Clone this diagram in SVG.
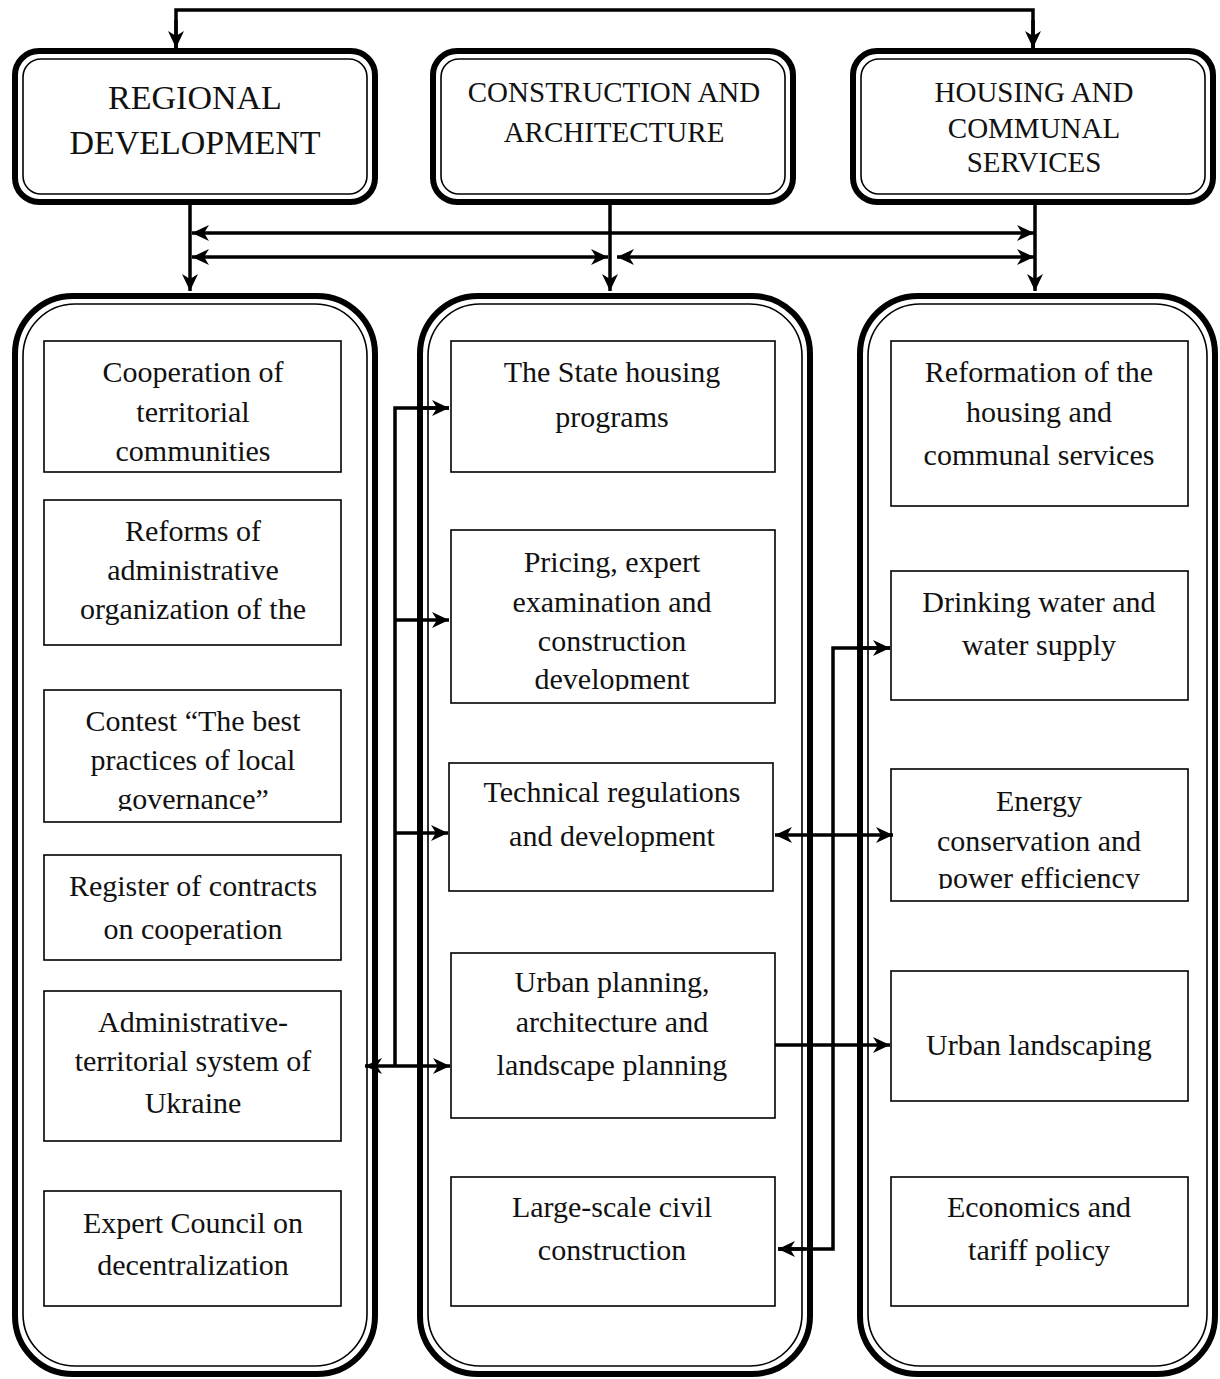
<svg xmlns="http://www.w3.org/2000/svg" width="1220" height="1379" viewBox="0 0 1220 1379">
<style>
.outer{fill:none;stroke:#000;stroke-width:6}
.inner{fill:none;stroke:#000;stroke-width:1.6}
.box{fill:#fff;stroke:#000;stroke-width:1.6}
.t{font-family:"Liberation Serif","Times New Roman",serif;font-size:30px;fill:#111;text-anchor:middle}
.h1{font-family:"Liberation Serif","Times New Roman",serif;font-size:34px;fill:#111;text-anchor:middle}
.h2{font-family:"Liberation Serif","Times New Roman",serif;font-size:29px;fill:#111;text-anchor:middle}
.c{fill:none;stroke:#000;stroke-width:3.5}
</style>
<defs>
<marker id="ah" markerUnits="userSpaceOnUse" markerWidth="18" markerHeight="18" viewBox="0 0 18 18" refX="17" refY="9" orient="auto-start-reverse">
<path d="M0,1 L17,9 L0,17 L5,9 Z" fill="#000"/>
</marker>
<clipPath id="cp2"><rect x="451" y="530" width="324" height="161"/></clipPath>
<clipPath id="cp3"><rect x="44" y="690" width="297" height="121"/></clipPath>
<clipPath id="cp4"><rect x="891" y="769" width="297" height="120"/></clipPath>
</defs>
<rect width="1220" height="1379" fill="#fff"/>

<g id="regional-development">
<rect class="outer" x="15" y="51" width="360" height="151" rx="24"/>
<rect class="inner" x="23" y="59" width="344" height="135" rx="18"/>
<text class="h1" x="195" y="109">REGIONAL</text>
<text class="h1" x="195" y="154">DEVELOPMENT</text>
</g>
<g id="construction-architecture">
<rect class="outer" x="433" y="51" width="360" height="151" rx="24"/>
<rect class="inner" x="441" y="59" width="344" height="135" rx="18"/>
<text class="h2" x="614" y="102">CONSTRUCTION AND</text>
<text class="h2" x="614" y="142">ARCHITECTURE</text>
</g>
<g id="housing-communal">
<rect class="outer" x="853" y="51" width="360" height="151" rx="24"/>
<rect class="inner" x="861" y="59" width="344" height="135" rx="18"/>
<text class="h2" x="1034" y="102">HOUSING AND</text>
<text class="h2" x="1034" y="138">COMMUNAL</text>
<text class="h2" x="1034" y="172">SERVICES</text>
</g>

<g id="left-container">
<rect class="outer" x="15" y="296" width="360" height="1078" rx="58"/>
<rect class="inner" x="23" y="304" width="344" height="1062" rx="52"/>
</g>
<g id="middle-container">
<rect class="outer" x="420" y="296" width="390" height="1078" rx="58"/>
<rect class="inner" x="428" y="304" width="374" height="1062" rx="52"/>
</g>
<g id="right-container">
<rect class="outer" x="860" y="296" width="355" height="1078" rx="58"/>
<rect class="inner" x="868" y="304" width="339" height="1062" rx="52"/>
</g>

<g id="l1"><rect class="box" x="44" y="341" width="297" height="131"/>
<text class="t" x="193" y="382">Cooperation of</text><text class="t" x="193" y="422">territorial</text><text class="t" x="193" y="461">communities</text></g>
<g id="l2"><rect class="box" x="44" y="500" width="297" height="145"/>
<text class="t" x="193" y="541">Reforms of</text><text class="t" x="193" y="580">administrative</text><text class="t" x="193" y="619">organization of the</text></g>
<g id="l3"><rect class="box" x="44" y="690" width="297" height="132"/>
<g clip-path="url(#cp3)"><text class="t" x="193" y="731">Contest “The best</text><text class="t" x="193" y="770">practices of local</text><text class="t" x="193" y="809">governance”</text></g></g>
<g id="l4"><rect class="box" x="44" y="855" width="297" height="105"/>
<text class="t" x="193" y="896">Register of contracts</text><text class="t" x="193" y="939">on cooperation</text></g>
<g id="l5"><rect class="box" x="44" y="991" width="297" height="150"/>
<text class="t" x="193" y="1032">Administrative-</text><text class="t" x="193" y="1071">territorial system of</text><text class="t" x="193" y="1113">Ukraine</text></g>
<g id="l6"><rect class="box" x="44" y="1191" width="297" height="115"/>
<text class="t" x="193" y="1233">Expert Council on</text><text class="t" x="193" y="1275">decentralization</text></g>

<g id="m1"><rect class="box" x="451" y="341" width="324" height="131"/>
<text class="t" x="612" y="382">The State housing</text><text class="t" x="612" y="427">programs</text></g>
<g id="m2"><rect class="box" x="451" y="530" width="324" height="173"/>
<g clip-path="url(#cp2)"><text class="t" x="612" y="572">Pricing, expert</text><text class="t" x="612" y="612">examination and</text><text class="t" x="612" y="651">construction</text><text class="t" x="612" y="689">development</text></g></g>
<g id="m3"><rect class="box" x="449" y="763" width="324" height="128"/>
<text class="t" x="612" y="802">Technical regulations</text><text class="t" x="612" y="846">and development</text></g>
<g id="m4"><rect class="box" x="451" y="953" width="324" height="165"/>
<text class="t" x="612" y="992">Urban planning,</text><text class="t" x="612" y="1032">architecture and</text><text class="t" x="612" y="1075">landscape planning</text></g>
<g id="m5"><rect class="box" x="451" y="1177" width="324" height="129"/>
<text class="t" x="612" y="1217">Large-scale civil</text><text class="t" x="612" y="1260">construction</text></g>

<g id="r1"><rect class="box" x="891" y="341" width="297" height="165"/>
<text class="t" x="1039" y="382">Reformation of the</text><text class="t" x="1039" y="422">housing and</text><text class="t" x="1039" y="465">communal services</text></g>
<g id="r2"><rect class="box" x="891" y="571" width="297" height="129"/>
<text class="t" x="1039" y="612">Drinking water and</text><text class="t" x="1039" y="655">water supply</text></g>
<g id="r3"><rect class="box" x="891" y="769" width="297" height="132"/>
<g clip-path="url(#cp4)"><text class="t" x="1039" y="811">Energy</text><text class="t" x="1039" y="851">conservation and</text><text class="t" x="1039" y="888">power efficiency</text></g></g>
<g id="r4"><rect class="box" x="891" y="971" width="297" height="130"/>
<text class="t" x="1039" y="1055">Urban landscaping</text></g>
<g id="r5"><rect class="box" x="891" y="1177" width="297" height="129"/>
<text class="t" x="1039" y="1217">Economics and</text><text class="t" x="1039" y="1260">tariff policy</text></g>

<g id="connectors">
<path class="c" d="M176,48 V10 H1033 V48"/>
<path class="c" d="M176,20 V48" marker-end="url(#ah)"/>
<path class="c" d="M1033,20 V48" marker-end="url(#ah)"/>
<path class="c" d="M190,203 V291" marker-end="url(#ah)"/>
<path class="c" d="M610,203 V291" marker-end="url(#ah)"/>
<path class="c" d="M1035,203 V291" marker-end="url(#ah)"/>
<path class="c" d="M192,233 H1034" marker-start="url(#ah)" marker-end="url(#ah)"/>
<path class="c" d="M192,257 H608" marker-start="url(#ah)" marker-end="url(#ah)"/>
<path class="c" d="M617,257 H1034" marker-start="url(#ah)" marker-end="url(#ah)"/>
<path class="c" d="M395,1066 V408 H449"/>
<path class="c" d="M420,408 H449" marker-end="url(#ah)"/>
<path class="c" d="M395,620 H449" marker-end="url(#ah)"/>
<path class="c" d="M395,833 H448" marker-end="url(#ah)"/>
<path class="c" d="M365,1066 H450" marker-start="url(#ah)" marker-end="url(#ah)"/>
<path class="c" d="M778,1249 H833 V648 H890"/>
<path class="c" d="M860,648 H890" marker-end="url(#ah)"/>
<path class="c" d="M805,1249 H778" marker-end="url(#ah)"/>
<path class="c" d="M775,835 H893" marker-start="url(#ah)" marker-end="url(#ah)"/>
<path class="c" d="M775,1045 H890" marker-end="url(#ah)"/>
</g>
</svg>
